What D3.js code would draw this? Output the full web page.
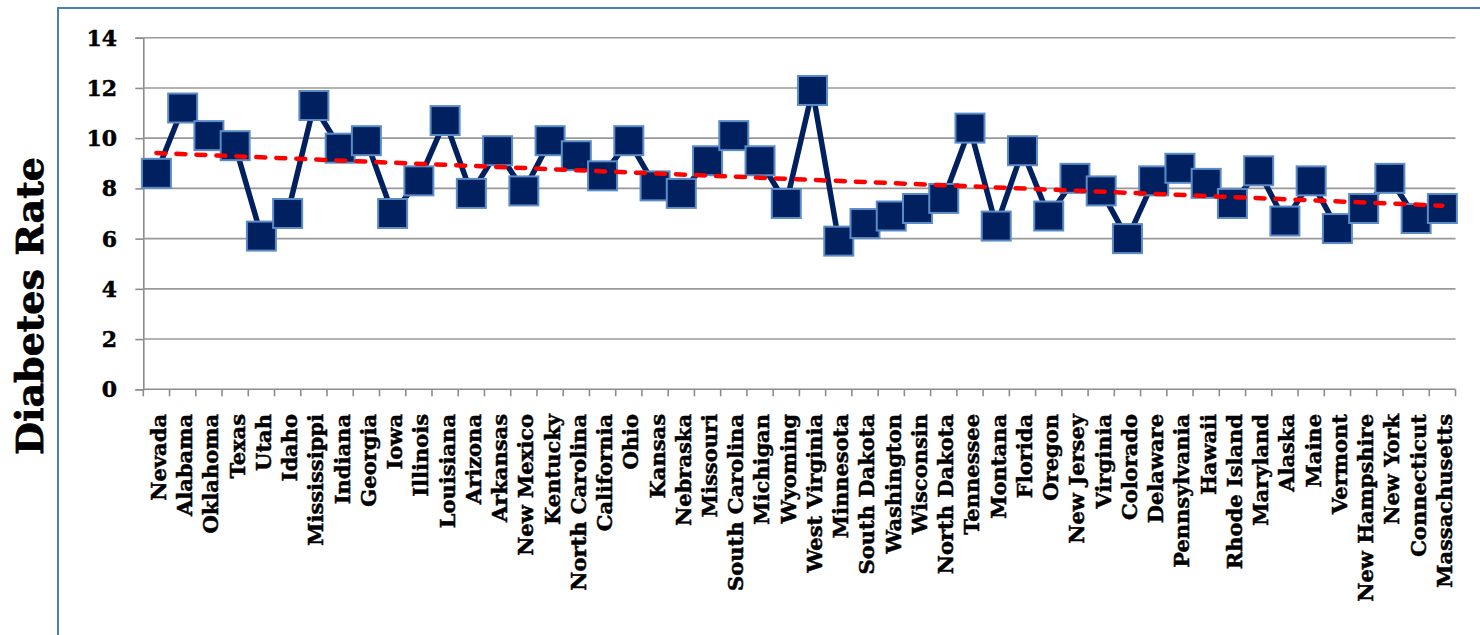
<!DOCTYPE html>
<html>
<head>
<meta charset="utf-8">
<script src="https://cdn.jsdelivr.net/npm/d3@7"></script>
<style>
  html, body { margin: 0; padding: 0; background: #ffffff; }
  svg { display: block; }
  text.lab { paint-order: stroke; stroke: #000; stroke-linejoin: round; }
</style>
</head>
<body>
<svg id="chart" width="1480" height="635"></svg>
<script>
// Diabetes rate by state, with a linear trend line
const states = [
  "Nevada", "Alabama", "Oklahoma", "Texas", "Utah", "Idaho", "Mississippi", "Indiana", "Georgia", "Iowa",
  "Illinois", "Louisiana", "Arizona", "Arkansas", "New Mexico", "Kentucky", "North Carolina", "California", "Ohio", "Kansas",
  "Nebraska", "Missouri", "South Carolina", "Michigan", "Wyoming", "West Virginia", "Minnesota", "South Dakota", "Washington", "Wisconsin",
  "North Dakota", "Tennessee", "Montana", "Florida", "Oregon", "New Jersey", "Virginia", "Colorado", "Delaware", "Pennsylvania",
  "Hawaii", "Rhode Island", "Maryland", "Alaska", "Maine", "Vermont", "New Hampshire", "New York", "Connecticut", "Massachusetts"
];
const diabetesRate = [
  8.6, 11.2, 10.1, 9.7, 6.1, 7.0, 11.3, 9.6, 9.9, 7.0,
  8.3, 10.7, 7.8, 9.5, 7.9, 9.9, 9.3, 8.5, 9.9, 8.1,
  7.8, 9.1, 10.1, 9.1, 7.4, 11.9, 5.9, 6.6, 6.9, 7.2,
  7.6, 10.4, 6.5, 9.5, 6.9, 8.4, 7.9, 6.0, 8.3, 8.8,
  8.2, 7.4, 8.7, 6.7, 8.3, 6.4, 7.2, 8.4, 6.8, 7.2
];
const yTicks = [0, 2, 4, 6, 8, 10, 12, 14];
const yTitle = "Diabetes Rate";

const FONT = "'DejaVu Serif', serif";

const svg = d3.select("#chart");
const plot = { left: 143.3, right: 1455.5, top: 37.7, bottom: 389.3 };

const x = d3.scaleBand().domain(states).range([plot.left, plot.right]).paddingInner(0).paddingOuter(0);
const y = d3.scaleLinear().domain([0, 14]).range([plot.bottom, plot.top]);
const cx = d => x(d) + x.bandwidth() / 2;

// chart area frame
svg.append("path")
  .attr("d", "M58,640 L58,8 L1490,8")
  .attr("fill", "none")
  .attr("stroke", "#4a7ebb")
  .attr("stroke-width", 2);

// y axis line and outward ticks
const yAxis = d3.axisLeft(y).tickValues(yTicks).tickSize(8).tickPadding(0).tickFormat(d3.format("d"));
const gy = svg.append("g").attr("transform", `translate(${plot.left},0)`).call(yAxis);
gy.select(".domain").attr("stroke", "#8c8c8c").attr("stroke-width", 1.6);
gy.selectAll(".tick line").attr("stroke", "#8c8c8c").attr("stroke-width", 1.6);
gy.selectAll(".tick text").remove();

// horizontal gridlines
svg.append("g").selectAll("line")
  .data(yTicks.filter(t => t > 0))
  .join("line")
  .attr("x1", plot.left).attr("x2", plot.right)
  .attr("y1", d => y(d)).attr("y2", d => y(d))
  .attr("stroke", "#999999").attr("stroke-width", 1.6);

svg.append("g").selectAll("text")
  .data(yTicks)
  .join("text")
  .attr("class", "lab")
  .attr("x", 117)
  .attr("y", d => y(d))
  .attr("dy", "0.36em")
  .attr("text-anchor", "end")
  .attr("font-family", FONT)
  .attr("font-weight", "bold")
  .attr("font-size", 22)
  .attr("stroke-width", 0.5)
  .attr("fill", "#000")
  .text(d => d);

// x axis with tick marks at category boundaries
const bounds = states.map(s => x(s)).concat([plot.right]);
svg.append("line")
  .attr("x1", plot.left).attr("x2", plot.right)
  .attr("y1", plot.bottom).attr("y2", plot.bottom)
  .attr("stroke", "#8c8c8c").attr("stroke-width", 1.6);
svg.append("g").selectAll("line")
  .data(bounds)
  .join("line")
  .attr("x1", d => d).attr("x2", d => d)
  .attr("y1", plot.bottom).attr("y2", plot.bottom + 7)
  .attr("stroke", "#8c8c8c").attr("stroke-width", 1.6);

svg.append("g").selectAll("text")
  .data(states)
  .join("text")
  .attr("class", "lab")
  .attr("transform", d => `translate(${cx(d)},414) rotate(-90)`)
  .attr("dy", "0.45em")
  .attr("text-anchor", "end")
  .attr("font-family", FONT)
  .attr("font-weight", "bold")
  .attr("font-size", 21)
  .attr("stroke-width", 0.5)
  .attr("fill", "#000")
  .text(d => d);

// y axis title
svg.append("text")
  .attr("class", "lab")
  .attr("transform", "translate(43,306) rotate(-90)")
  .attr("text-anchor", "middle")
  .attr("font-family", FONT)
  .attr("font-weight", "bold")
  .attr("font-size", 38)
  .attr("stroke-width", 0.8)
  .attr("fill", "#000")
  .text(yTitle);

// series line and square markers
const pts = states.map((s, i) => ({ s, v: diabetesRate[i] }));
svg.append("path")
  .datum(pts)
  .attr("fill", "none")
  .attr("stroke", "#002060")
  .attr("stroke-width", 5.5)
  .attr("stroke-linejoin", "round")
  .attr("d", d3.line().x(d => cx(d.s)).y(d => y(d.v)));

const M = 29;
svg.append("g").selectAll("rect")
  .data(pts)
  .join("rect")
  .attr("x", d => cx(d.s) - M / 2)
  .attr("y", d => y(d.v) - M / 2)
  .attr("width", M).attr("height", M)
  .attr("fill", "#002060")
  .attr("stroke", "#5b8cc6")
  .attr("stroke-width", 2);

// least-squares trend line over the category index
const n = diabetesRate.length;
const idx = d3.range(1, n + 1);
const mx = d3.mean(idx), my = d3.mean(diabetesRate);
const slope = d3.sum(idx, (xi, i) => (xi - mx) * (diabetesRate[i] - my)) / d3.sum(idx, xi => (xi - mx) ** 2);
const icpt = my - slope * mx;
svg.append("line")
  .attr("x1", cx(states[0])).attr("y1", y(icpt + slope * 1))
  .attr("x2", cx(states[n - 1])).attr("y2", y(icpt + slope * n))
  .attr("stroke", "#ff0000")
  .attr("stroke-width", 4.5)
  .attr("stroke-linecap", "round")
  .attr("stroke-dasharray", "9,11");
</script>
</body>
</html>
